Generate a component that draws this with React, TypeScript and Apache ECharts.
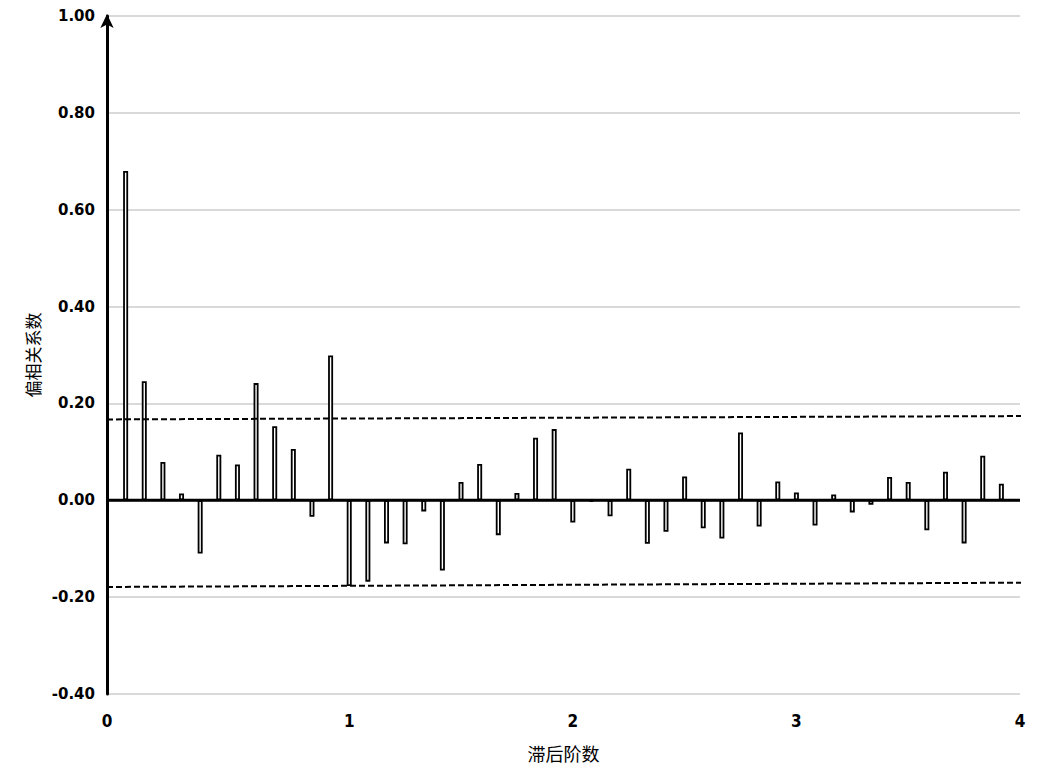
import React, { useEffect, useRef } from "react";
import * as echarts from "echarts";

const lags = [1, 2, 3, 4, 5, 6, 7, 8, 9, 10, 11, 12, 13, 14, 15, 16, 17, 18, 19, 20, 21, 22, 23, 24, 25, 26, 27, 28, 29, 30, 31, 32, 33, 34, 35, 36, 37, 38, 39, 40, 41, 42, 43, 44, 45, 46, 47, 48];
const pacf = [
  0.68, 0.246, 0.079, 0.014, -0.11, 0.094, 0.074, 0.242, 0.153, 0.106, -0.034, 0.299,
  -0.177, -0.168, -0.089, -0.091, -0.023, -0.145, 0.038, 0.075, -0.072, 0.015, 0.129, 0.147,
  -0.046, -0.003, -0.033, 0.065, -0.09, -0.065, 0.049, -0.058, -0.079, 0.14, -0.054, 0.039,
  0.016, -0.052, 0.012, -0.025, -0.009, 0.048, 0.038, -0.062, 0.059, -0.089, 0.092, 0.034,
];
const boundX = [0, 49.7];
const upperBound = [0.167, 0.174];
const lowerBound = [-0.179, -0.17];
const xTickPositions = [0, 13, 25, 37, 49];
const xTickLabels = ["0", "1", "2", "3", "4"];
const yTicks = [-0.4, -0.2, 0, 0.2, 0.4, 0.6, 0.8, 1.0];

export default function App() {
  const ref = useRef<HTMLDivElement>(null);
  useEffect(() => {
    if (!ref.current) return;
    const chart = echarts.init(ref.current, null, { renderer: "svg" });
    const labelMap: Record<number, string> = {};
    xTickPositions.forEach((p, i) => (labelMap[p] = xTickLabels[i]));
    chart.setOption({
      animation: false,
      backgroundColor: "#ffffff",
      grid: { left: 107, right: 18, top: 16, bottom: 77 },
      xAxis: {
        type: "value",
        min: 0,
        max: 49,
        interval: 1,
        name: "滞后阶数",
        nameLocation: "middle",
        nameGap: 50,
        nameTextStyle: { fontFamily: "Noto Sans CJK SC", fontSize: 18, color: "#000" },
        axisLine: { show: false, onZero: false },
        axisTick: { show: false },
        splitLine: { show: false },
        axisLabel: {
          margin: 18,
          fontFamily: "DejaVu Sans Condensed",
          fontWeight: "bold",
          fontSize: 17,
          color: "#000",
          formatter: (v: number) => labelMap[Math.round(v)] ?? "",
        },
      },
      yAxis: {
        type: "value",
        min: yTicks[0],
        max: yTicks[yTicks.length - 1],
        interval: 0.2,
        name: "偏相关系数",
        nameLocation: "middle",
        nameGap: 63,
        nameRotate: 90,
        nameTextStyle: { fontFamily: "Noto Sans CJK SC", fontSize: 17, color: "#000" },
        axisLine: {
          show: true,
          onZero: false,
          lineStyle: { color: "#000", width: 3 },
          symbol: ["none", "arrow"],
          symbolSize: [10, 14],
          symbolOffset: [0, 2],
        },
        axisTick: { show: false },
        splitLine: { show: true, lineStyle: { color: "#d9d9d9", width: 2 } },
        axisLabel: {
          margin: 12,
          fontFamily: "DejaVu Sans",
          fontWeight: "bold",
          fontSize: 15,
          color: "#000",
          formatter: (v: number) => v.toFixed(2),
        },
      },
      series: [
        {
          type: "bar",
          data: lags.map((l, i) => [l, pacf[i]]),
          barWidth: 5,
          itemStyle: { color: "#ffffff", borderColor: "#000", borderWidth: 1.8 },
          z: 3,
        },
        {
          type: "line",
          data: [[0, 0], [49, 0]],
          symbol: "none",
          lineStyle: { color: "#000", width: 3 },
          z: 4,
        },
        {
          type: "line",
          clip: false,
          data: boundX.map((x, i) => [x, upperBound[i]]),
          symbol: "none",
          lineStyle: { color: "#000", width: 2, type: [6, 3] },
          z: 5,
        },
        {
          type: "line",
          clip: false,
          data: boundX.map((x, i) => [x, lowerBound[i]]),
          symbol: "none",
          lineStyle: { color: "#000", width: 2, type: [6, 3] },
          z: 5,
        },
      ],
    });
    return () => chart.dispose();
  }, []);
  return (
    <div
      ref={ref}
      style={{ position: "fixed", left: 0, top: 0, width: 1038, height: 771 }}
    />
  );
}
